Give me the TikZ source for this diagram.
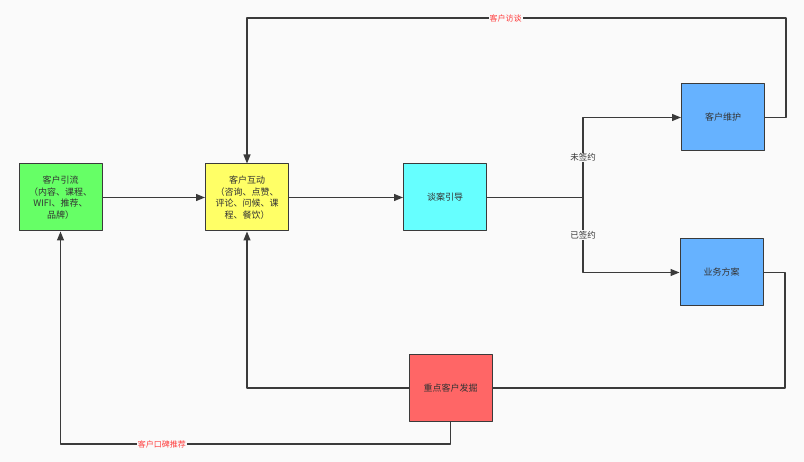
\documentclass[tikz,border=0pt]{standalone}
\usepackage{fontspec}
\newfontfamily\cjk{Noto Sans CJK SC}
\usetikzlibrary{arrows.meta}
\definecolor{bgc}{HTML}{FAFAFA}
\definecolor{linec}{HTML}{3A3A3A}
\definecolor{txtc}{HTML}{333333}
\definecolor{lblc}{HTML}{FF3B3B}
\definecolor{cgreen}{HTML}{66FF66}
\definecolor{cyellow}{HTML}{FFFF66}
\definecolor{ccyan}{HTML}{66FFFF}
\definecolor{cblue}{HTML}{66B2FF}
\definecolor{cred}{HTML}{FF6666}
\tikzset{
	box/.style={draw=linec, line width=1pt, minimum width=83pt, minimum height=67pt, align=center, text=txtc, inner sep=1pt},
	conn/.style={draw=linec, line width=1.2pt},
	lbl/.style={fill=bgc, text=lblc, font=\cjk\fontsize{8}{9}\selectfont, inner sep=1pt},
	glbl/.style={fill=bgc, text=txtc, font=\cjk\fontsize{8.5}{10}\selectfont, inner sep=1pt}
}
\begin{document}
\begin{tikzpicture}[x=1pt, y=-1pt, >={Triangle[length=9pt, width=7pt]}, font=\cjk\fontsize{9}{11.5}\selectfont, line join=round]
	\fill[bgc] (0,0) rectangle (804,462);
	\useasboundingbox (0,0) rectangle (804,462);
	% boxes
	\node[box, fill=cgreen] (yinliu) at (60.5,197.5) {客户引流\\（内容、课程、\\WIFI、推荐、\\品牌）};
	\node[box, fill=cyellow] (hudong) at (247,197.5) {客户互动\\（咨询、点赞、\\评论、问候、课\\程、餐饮）};
	\node[box, fill=ccyan] (tanan) at (445,197.5) {谈案引导};
	\node[box, fill=cblue] (weihu) at (723,117.5) {客户维护};
	\node[box, fill=cblue] (fangan) at (721.5,272.5) {业务方案};
	\node[box, fill=cred] (wajue) at (450.5,388) {重点客户发掘};
	% corners
	\coordinate (fen) at (583,197.5);
	\coordinate (tr) at (786,18);
	\coordinate (tl) at (247,18);
	\coordinate (rr) at (785,388);
	\coordinate (bl) at (60.5,444);
	% connectors
	\draw[conn,->] (yinliu) -- (hudong);
	\draw[conn,->] (hudong) -- (tanan);
	\draw[conn] (tanan) -- (fen);
	\draw[conn,->] (fen) |- node[glbl, pos=0.25] {未签约} (weihu);
	\draw[conn,->] (fen) |- node[glbl, pos=0.25] {已签约} (fangan);
	\draw[conn,->] (weihu.east) -| (tr) -- node[lbl, pos=0.52] {客户访谈} (tl) -- (hudong);
	\draw[conn] (fangan.east) -| (rr) -- (wajue.east);
	\draw[conn,->] (wajue.west) -| (hudong.south);
	\draw[conn,->] (wajue.south) |- node[lbl, pos=0.87] {客户口碑推荐} (bl) -- (yinliu);
\end{tikzpicture}
\end{document}
